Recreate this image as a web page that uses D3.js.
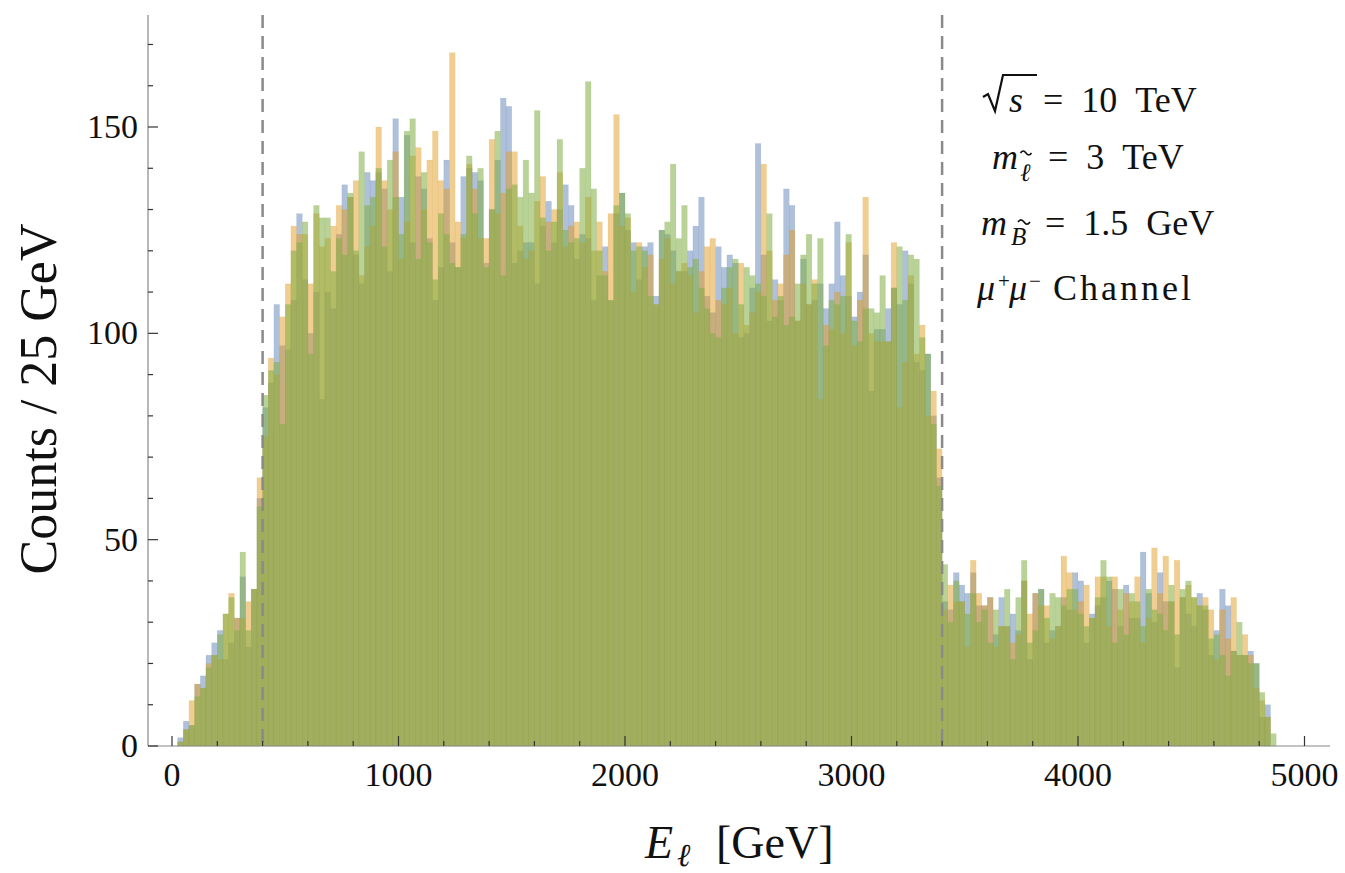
<!DOCTYPE html>
<html>
<head>
<meta charset="utf-8">
<script src="https://cdn.jsdelivr.net/npm/d3@7"></script>
<style>
  body { margin: 0; background: #fff; }
  svg text { font-family: "Liberation Serif", "DejaVu Serif", serif; fill: #111; }
</style>
</head>
<body>
<svg id="chart" width="1345" height="873"></svg>
<script>
// bin edges: 25 GeV bins, first bin starts at 25
var binWidth = 25;
var firstBin = 25;

// counts per bin
var blue = [2,6,5,15,17,22,25,28,21,25,31,41,24,38,60,82,88,107,97,96,
  108,129,113,100,110,84,110,106,124,136,133,119,112,139,137,139,135,115,152,133,
  148,122,138,135,123,108,116,142,122,116,138,140,139,137,117,130,142,157,155,117,
  120,122,122,112,126,132,122,130,136,131,118,124,123,108,114,121,108,129,134,125,
  122,113,121,122,109,125,124,120,115,115,120,126,133,109,105,121,116,119,117,99,
  100,111,146,119,103,113,108,135,131,103,118,107,108,112,106,112,127,114,109,104,
  110,119,86,101,101,106,111,107,120,112,93,91,95,80,65,35,33,42,39,37,
  42,34,34,36,27,36,29,32,28,40,21,37,38,25,28,29,36,33,42,40,
  25,32,34,36,40,38,29,39,31,31,47,37,30,42,35,35,19,36,32,29,
  37,33,22,28,38,34,23,22,22,23,20,7,10,0];
var orange = [1,4,11,15,14,20,22,21,32,37,31,31,35,38,65,75,94,90,104,112,
  126,124,124,112,129,121,123,126,131,130,133,137,114,121,126,150,137,130,144,118,
  127,143,145,130,142,149,137,135,168,127,123,141,135,123,123,147,129,134,144,144,
  126,118,120,132,138,127,130,139,121,126,127,122,133,120,127,115,129,153,126,128,
  110,122,116,119,107,118,123,112,115,117,114,105,115,121,123,108,107,111,100,117,
  102,105,110,141,120,108,112,119,125,103,112,107,113,84,102,101,110,100,122,97,
  108,133,100,98,98,98,122,82,93,114,95,102,80,86,72,33,39,35,35,24,
  45,37,34,36,24,29,29,25,27,40,32,37,34,34,26,29,46,42,33,35,
  39,31,41,41,29,41,33,37,35,41,25,31,48,37,46,35,45,36,39,36,
  34,36,33,21,33,26,36,22,27,22,14,11,7,0];
var green = [1,4,5,12,14,19,22,27,32,36,28,47,28,38,58,85,91,93,78,107,
  120,122,127,95,131,128,128,115,123,119,134,120,144,131,133,140,121,142,133,124,
  149,152,118,139,122,113,129,124,117,116,124,143,129,140,116,130,149,114,135,136,
  133,142,134,154,128,120,127,147,125,122,123,140,161,135,120,114,108,131,134,129,
  120,121,120,109,107,125,127,141,123,131,116,118,111,106,100,99,111,116,118,107,
  116,114,112,109,129,104,109,102,104,112,119,124,112,123,97,108,107,109,124,103,
  98,106,106,105,114,98,111,121,108,119,118,99,95,78,63,44,30,40,35,32,
  37,30,33,25,33,29,38,21,36,45,25,28,38,31,37,36,34,38,38,32,
  29,31,36,45,41,25,38,27,37,35,29,38,33,32,28,39,27,38,40,36,
  34,34,26,27,22,17,23,30,22,20,20,13,7,3];

var seriesNames = ["blue", "orange", "green"];
var seriesColors = ["#5e81b5", "#e19c24", "#82af46"];
var seriesOpacity = [0.5, 0.5, 0.56];

var xTicksMajor = [0, 1000, 2000, 3000, 4000, 5000];
var yTicksMajor = [0, 50, 100, 150];
var cutLines = [400, 3400];

var svg = d3.select("#chart");

// scales set so that 0 GeV sits at 172px and 5000 GeV at 1304.5px
var x = d3.scaleLinear().domain([0, 5000]).range([172, 1304.5]);
var y = d3.scaleLinear().domain([0, 150]).range([746, 127]);

var plotLeft = 148, plotRight = 1330, plotTop = 15, plotBottom = 746;

// bars, drawn blue, then orange, then green on top
var allSeries = [blue, orange, green];
allSeries.forEach(function(vals, s) {
  svg.append("g")
    .attr("class", "bars-" + seriesNames[s])
    .selectAll("rect")
    .data(vals)
    .enter()
  .append("rect")
    .attr("x", function(d, i) { return x(firstBin + i * binWidth); })
    .attr("width", function(d, i) { return x(firstBin + (i + 1) * binWidth) - x(firstBin + i * binWidth); })
    .attr("y", function(d) { return y(d); })
    .attr("height", function(d) { return y(0) - y(d); })
    .attr("fill", seriesColors[s])
    .attr("fill-opacity", seriesOpacity[s])
    .attr("stroke", seriesColors[s])
    .attr("stroke-opacity", 0.2)
    .attr("stroke-width", 0.5);
});

// dashed cut lines
svg.selectAll("line.cut")
  .data(cutLines)
  .enter()
.append("line")
  .attr("class", "cut")
  .attr("x1", function(d) { return x(d); })
  .attr("x2", function(d) { return x(d); })
  .attr("y1", plotTop)
  .attr("y2", plotBottom)
  .attr("stroke", "#8a8a8a")
  .attr("stroke-width", 2.5)
  .attr("stroke-dasharray", "13,8");

// axes lines
svg.append("line")
  .attr("x1", plotLeft).attr("x2", plotRight)
  .attr("y1", plotBottom).attr("y2", plotBottom)
  .attr("stroke", "#888").attr("stroke-width", 1.2);
svg.append("line")
  .attr("x1", plotLeft).attr("x2", plotLeft)
  .attr("y1", plotTop).attr("y2", plotBottom)
  .attr("stroke", "#888").attr("stroke-width", 1.2);

// x ticks: minor every 200, major every 1000 (pointing up)
var xMinor = d3.range(0, 5001, 200);
svg.selectAll("line.xt")
  .data(xMinor)
  .enter()
.append("line")
  .attr("x1", function(d) { return x(d); })
  .attr("x2", function(d) { return x(d); })
  .attr("y1", plotBottom)
  .attr("y2", function(d) { return plotBottom - (d % 1000 === 0 ? 10 : 5); })
  .attr("stroke", "#333").attr("stroke-width", 1.2);

svg.selectAll("text.xl")
  .data(xTicksMajor)
  .enter()
.append("text")
  .attr("x", function(d) { return x(d); })
  .attr("y", 786)
  .attr("text-anchor", "middle")
  .attr("font-size", 34)
  .text(function(d) { return d; });

// y ticks: minor every 10, major every 50 (pointing right)
var yMinor = d3.range(0, 171, 10);
svg.selectAll("line.yt")
  .data(yMinor)
  .enter()
.append("line")
  .attr("x1", plotLeft)
  .attr("x2", function(d) { return plotLeft + (d % 50 === 0 ? 10 : 5); })
  .attr("y1", function(d) { return y(d); })
  .attr("y2", function(d) { return y(d); })
  .attr("stroke", "#333").attr("stroke-width", 1.2);

svg.selectAll("text.yl")
  .data(yTicksMajor)
  .enter()
.append("text")
  .attr("x", 138)
  .attr("y", function(d) { return y(d) + 11; })
  .attr("text-anchor", "end")
  .attr("font-size", 34)
  .text(function(d) { return d; });

// axis labels
svg.append("text")
  .attr("transform", "translate(56,399) rotate(-90)")
  .attr("text-anchor", "middle")
  .attr("font-size", 52)
  .text("Counts / 25 GeV");

svg.append("text").attr("x", 645).attr("y", 858)
  .attr("font-size", 46).attr("font-style", "italic").text("E");
svg.append("text").attr("x", 677).attr("y", 866)
  .attr("font-size", 32).attr("font-style", "italic").text("\u2113");
svg.append("text").attr("x", 716).attr("y", 858)
  .attr("font-size", 46).text("[GeV]");

// small tilde accent
function tilde(cx, cy, w) {
  var h = w * 0.18;
  svg.append("path")
    .attr("d", "M" + (cx - w / 2) + "," + (cy + h / 2) +
      " q" + (w / 4) + "," + (-h * 2) + " " + (w / 2) + ",0" +
      " t" + (w / 2) + ",0")
    .attr("fill", "none")
    .attr("stroke", "#111")
    .attr("stroke-width", 1.6);
}

var annSize = 36;

// line 1: sqrt(s) = 10 TeV
svg.append("path")
  .attr("d", "M983,97 L988,94 L995,111 L1003,75 L1037,75")
  .attr("fill", "none").attr("stroke", "#111").attr("stroke-width", 2.2)
  .attr("stroke-linejoin", "miter");
svg.append("text").attr("x", 1009).attr("y", 112)
  .attr("font-size", annSize).attr("font-style", "italic").text("s");
svg.append("text").attr("x", 1043).attr("y", 112)
  .attr("font-size", annSize).text("=\u200210\u2002TeV");

// line 2: m_slepton = 3 TeV
svg.append("text").attr("x", 992).attr("y", 169)
  .attr("font-size", annSize).attr("font-style", "italic").text("m");
svg.append("text").attr("x", 1020).attr("y", 181)
  .attr("font-size", 25).attr("font-style", "italic").text("\u2113");
tilde(1026, 152, 11);
svg.append("text").attr("x", 1048).attr("y", 169)
  .attr("font-size", annSize).text("=\u20023\u2002TeV");

// line 3: m_bino = 1.5 GeV
svg.append("text").attr("x", 981).attr("y", 235)
  .attr("font-size", annSize).attr("font-style", "italic").text("m");
svg.append("text").attr("x", 1011).attr("y", 245)
  .attr("font-size", 25).attr("font-style", "italic").text("B");
tilde(1024, 221, 12);
svg.append("text").attr("x", 1045).attr("y", 235)
  .attr("font-size", annSize).text("=\u20021.5\u2002GeV");

// line 4: mu+ mu- Channel
svg.append("text").attr("x", 977).attr("y", 300)
  .attr("font-size", annSize).attr("font-style", "italic").text("\u03BC");
svg.append("text").attr("x", 998).attr("y", 288)
  .attr("font-size", 21).text("+");
svg.append("text").attr("x", 1009).attr("y", 300)
  .attr("font-size", annSize).attr("font-style", "italic").text("\u03BC");
svg.append("text").attr("x", 1029).attr("y", 288)
  .attr("font-size", 21).text("\u2212");
svg.append("text").attr("x", 1053).attr("y", 300)
  .attr("font-size", annSize).attr("letter-spacing", 3).text("Channel");
</script>
</body>
</html>
